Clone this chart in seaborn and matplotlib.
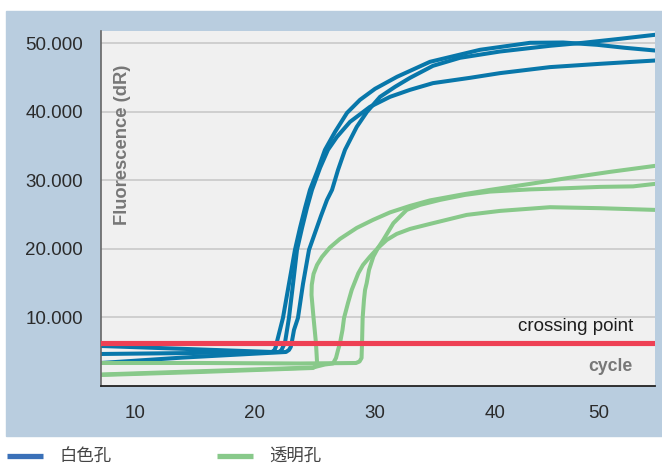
import numpy as np
import pandas as pd
import matplotlib
matplotlib.use('Agg')
import matplotlib.pyplot as plt
import seaborn as sns
from matplotlib.lines import Line2D
from matplotlib.patches import Rectangle

sns.set_theme(style='white')
plt.rcParams['font.family'] = ['Liberation Sans', 'Noto Sans CJK SC', 'DejaVu Sans']

# colours
panel_col = '#b9cddf'
plot_bg = '#f0f0f0'
blue = '#0877aa'
green = '#88c98a'
red = '#ee4054'

# white wells (blue) - cycle / fluorescence dR
blue_a_x = [7.17, 14.0, 21.42, 21.63, 21.73, 21.81, 22.33, 22.83, 23.33, 23.75, 24.17, 24.58, 25.17, 25.83,
            26.67, 27.67, 28.75, 30.0, 31.83, 34.58, 38.75, 42.92, 45.67, 48.5, 50.83, 53.33]
blue_a_y = [5840, 5420, 4964, 5256, 5694, 6322, 9928, 14892, 19856, 23068, 25988, 28616, 31244, 34456,
            37084, 39858, 41756, 43362, 45114, 47304, 49056, 50078, 50122, 49786, 49348, 48954]

blue_b_x = [7.17, 14.0, 22.0, 22.21, 22.33, 22.5, 22.83, 23.17, 23.5, 23.92, 24.33, 24.75, 25.42, 26.08,
            26.83, 27.92, 29.58, 31.25, 32.92, 34.83, 37.92, 40.42, 44.58, 48.75, 53.33]
blue_b_y = [4672, 4800, 4964, 5256, 5694, 6322, 9928, 14892, 19856, 23068, 25988, 28616, 31828, 34456,
            36354, 38544, 40734, 42194, 43216, 44194, 44968, 45654, 46530, 47012, 47494]

blue_c_x = [7.17, 14.0, 22.58, 22.83, 22.98, 23.06, 23.25, 23.58, 24.0, 24.5, 25.0, 25.5, 26.0, 26.42,
            26.92, 27.5, 28.48, 29.33, 30.42, 31.67, 32.92, 34.83, 37.08, 40.42, 44.58, 47.33, 50.42, 53.33]
blue_c_y = [3358, 4150, 4964, 5256, 5694, 6322, 8176, 9928, 14892, 19856, 22338, 24820, 27156, 28616,
            31536, 34456, 37814, 40004, 42194, 43654, 44967, 46720, 47888, 48808, 49640, 50078, 50662, 51246]

# clear wells (green)
green_a_x = [7.17, 15.42, 24.83, 25.08, 25.17, 25.08, 24.88, 24.71, 24.73, 24.88, 25.17, 25.58, 26.25,
             27.08, 28.48, 29.83, 31.25, 32.92, 34.58, 37.08, 39.58, 42.92, 45.98, 49.58, 53.33]
green_a_y = [1606, 2044, 2628, 2920, 3504, 6278, 9928, 13286, 14746, 16352, 17666, 18834, 20221,
             21462, 23068, 24236, 25331, 26280, 27083, 27886, 28616, 29492, 30324, 31244, 32120]

green_b_x = [7.17, 24.83, 25.83, 26.5, 26.75, 26.92, 27.08, 27.29, 27.42, 27.75, 28.06, 28.61, 29.0,
             29.58, 30.25, 30.98, 31.81, 32.92, 34.58, 37.64, 40.42, 44.58, 48.75, 53.33]
green_b_y = [1680, 2701, 3139, 3285, 4088, 5256, 6234, 8176, 9928, 12118, 14016, 16454, 17666,
             18878, 20148, 21316, 22192, 22922, 23652, 24966, 25550, 26090, 25944, 25696]

green_c_x = [7.17, 15.42, 23.75, 28.42, 28.71, 28.88, 28.9, 28.92, 28.97, 29.08, 29.17, 29.31, 29.5,
             29.86, 30.25, 30.69, 31.53, 32.64, 33.75, 35.42, 37.5, 39.58, 42.92, 45.98, 48.75, 51.5, 53.33]
green_c_y = [3358, 3358, 3285, 3358, 3577, 4088, 5256, 6278, 9928, 12556, 14016, 15038, 16936,
             18878, 20148, 21316, 23754, 25696, 26426, 27156, 27886, 28368, 28689, 28864, 29054, 29127, 29492]

threshold = 6320

ytick_vals = [10000, 20000, 30000, 40000, 50000]
ytick_labels = ['10.000', '20.000', '30.000', '40.000', '50.000']
xtick_vals = [10, 20, 30, 40, 48.6]
xtick_labels = ['10', '20', '30', '40', '50']
legend_labels = ['白色孔', '透明孔']

curves = {
    'w1': (blue_a_x, blue_a_y), 'w2': (blue_b_x, blue_b_y), 'w3': (blue_c_x, blue_c_y),
    'c1': (green_a_x, green_a_y), 'c2': (green_b_x, green_b_y), 'c3': (green_c_x, green_c_y),
}
rows = []
for name, (xs, ys) in curves.items():
    for i, (x, y) in enumerate(zip(xs, ys)):
        rows.append({'curve': name, 'cycle': x, 'dR': y, 'i': i})
df = pd.DataFrame(rows)
pal = {k: (blue if k.startswith('w') else green) for k in curves}

fig = plt.figure(figsize=(6.62, 4.67), dpi=100)
fig.patch.set_facecolor('white')
fig.patches.append(Rectangle((6 / 662, 31 / 467), 656 / 662, 425 / 467,
                             transform=fig.transFigure, color=panel_col, zorder=-10))
ax = fig.add_axes([101 / 662, 81 / 467, 554 / 662, 355 / 467])
ax.set_zorder(1)
ax.set_facecolor(plot_bg)

sns.lineplot(data=df, x='cycle', y='dR', hue='curve', palette=pal, sort=False,
             estimator=None, lw=2.9, legend=False, ax=ax,
             solid_joinstyle='round', solid_capstyle='round')
ax.axhline(threshold, color=red, lw=3.7, zorder=5)

ax.set_xlim(7.17, 53.33)
ax.set_ylim(0, 51800)
ax.set_yticks(ytick_vals)
ax.set_yticklabels(ytick_labels)
ax.set_xticks(xtick_vals)
ax.set_xticklabels(xtick_labels)
ax.grid(axis='y', color='#c6c6c6', lw=1.1)
ax.set_axisbelow(True)
ax.tick_params(axis='both', length=0, labelsize=13.5, labelcolor='#2b2b2b')
ax.tick_params(axis='y', pad=13)
ax.tick_params(axis='x', pad=14)
ax.set_xlabel('')
ax.set_ylabel('')
for s in ['top', 'right']:
    ax.spines[s].set_visible(False)
ax.spines['left'].set_color('#666666')
ax.spines['left'].set_linewidth(1.2)
ax.spines['bottom'].set_color('#222222')
ax.spines['bottom'].set_linewidth(1.3)

ax.text(0.96, 0.167, 'crossing point', transform=ax.transAxes, ha='right', va='center',
        fontsize=13.5, color='#1e1e1e')
ax.text(0.96, 0.054, 'cycle', transform=ax.transAxes, ha='right', va='center',
        fontsize=12.7, color='#777777', fontweight='bold')
ax.text(0.0397, 0.679, 'Fluorescence (dR)', transform=ax.transAxes, ha='center', va='center',
        rotation=90, fontsize=13.2, color='#777777', fontweight='bold')

handles = [Line2D([], [], color='#3a70b8', lw=3.8, solid_capstyle='butt'),
           Line2D([], [], color=green, lw=3.8, solid_capstyle='butt')]
fig.legend(handles=handles, labels=legend_labels, loc='center left',
           bbox_to_anchor=(7 / 662, 1 - 457 / 467), ncol=2, frameon=False,
           fontsize=12.5, handlelength=2.05, handletextpad=0.95, columnspacing=6.1,
           borderpad=0, borderaxespad=0, labelcolor='#444444')

fig.savefig('out.png', dpi=100)
